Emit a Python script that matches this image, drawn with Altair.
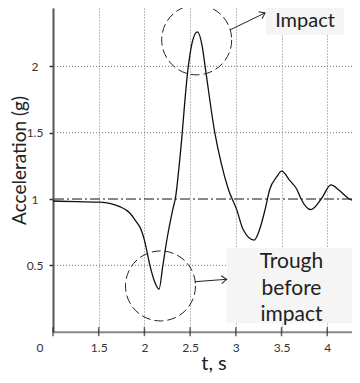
import math
import altair as alt
import pandas as pd

# ---- data ----
t_vals = [1.00, 1.25, 1.51, 1.62, 1.73, 1.84, 1.92, 1.95, 2.00, 2.06, 2.11, 2.16,
          2.20, 2.25, 2.31, 2.34, 2.39, 2.48, 2.53, 2.58, 2.63, 2.67, 2.77, 2.84,
          2.92, 3.01, 3.08, 3.20, 3.26, 3.32, 3.37, 3.45, 3.50, 3.59, 3.67, 3.71,
          3.82, 3.94, 4.04, 4.14, 4.23, 4.30, 4.36]
acc_vals = [0.985, 0.98, 0.976, 0.968, 0.943, 0.895, 0.82, 0.79, 0.69, 0.50, 0.38, 0.32,
            0.49, 0.71, 0.92, 1.01, 1.32, 2.00, 2.20, 2.26, 2.16, 1.97, 1.50, 1.27,
            1.07, 0.92, 0.77, 0.69, 0.77, 0.92, 1.07, 1.17, 1.21, 1.14, 1.07, 1.006,
            0.92, 1.006, 1.106, 1.06, 1.006, 0.985, 0.98]

x_ticks = [1, 1.5, 2, 2.5, 3, 3.5, 4]
x_origin_label = ["0"]
x_origin_value = [1]
y_ticks = [0.5, 1, 1.5, 2]
y_grid = [0.5, 1.5, 2]
ref_level = [1.0]

# annotations (data units)
circle_t = [2.572, 2.176]
circle_y = [2.20, 0.345]

arrow_t1 = [2.937, 2.554]
arrow_y1 = [2.275, 0.377]
arrow_t2 = [3.320, 2.900]
arrow_y2 = [2.403, 0.395]

box_t1 = [3.330, 2.900]
box_t2 = [4.184, 4.323]
box_y1 = [2.50, 0.631]
box_y2 = [2.237, 0.063]

label_text = ["Impact", "Trough", "before", "impact"]
label_size = [20, 21, 21, 21]
label_t = [3.757, 3.609, 3.609, 3.609]
label_y = [2.298, 0.478, 0.277, 0.081]

# ---- layout ----
W, H = 299, 323.7
XMIN, XMAX = 1.0, 4.271
YMIN, YMAX = 0.0, 2.44
FONT = "Lato"

xs = alt.Scale(domain=[XMIN, XMAX], nice=False, zero=False)
ys = alt.Scale(domain=[YMIN, YMAX], nice=False, zero=False)

curve = pd.DataFrame({"t": t_vals, "a": acc_vals})
circles = pd.DataFrame({"t": circle_t, "a": circle_y})
px_per_t = W / (XMAX - XMIN)
px_per_a = H / (YMAX - YMIN)
angles = []
for a1, b1, a2, b2 in zip(arrow_t1, arrow_y1, arrow_t2, arrow_y2):
    dx = (a2 - a1) * px_per_t
    dy = -(b2 - b1) * px_per_a
    angles.append(math.degrees(math.atan2(dy, dx)) % 360)
arrows = pd.DataFrame({"t1": arrow_t1, "a1": arrow_y1, "t2": arrow_t2, "a2": arrow_y2,
                       "ang": angles})
boxes = pd.DataFrame({"t1": box_t1, "t2": box_t2, "a1": box_y1, "a2": box_y2})
labels = pd.DataFrame({"txt": label_text, "t": label_t, "a": label_y, "fs": label_size})
ticks = pd.DataFrame({"t": x_ticks})
origin = pd.DataFrame({"t": x_origin_value, "txt": x_origin_label})
ygrid = pd.DataFrame({"a": y_grid})

x_axis = alt.Axis(
    values=x_ticks, format="~g", ticks=False, domainColor="#888888", domainWidth=2,
    labelFont=FONT, labelFontSize=12, labelColor="#333333", labelPadding=11,
    labelFlush=False, labelOverlap=False,
    labelExpr="datum.value === 1 ? '' : datum.label",
    grid=True, gridColor="#777777", gridDash=[1, 2], gridWidth=1,
    title="t, s", titleFont=FONT, titleFontSize=20, titleFontWeight="normal",
    titleColor="#222222", titleX=160.5, titleY=38, titleBaseline="alphabetic",
    titleAlign="center",
)
y_axis = alt.Axis(
    values=y_ticks, format="~g", tickSize=4, tickColor="#333333", tickWidth=1.5,
    domainColor="#555555", domainWidth=2,
    labelFont=FONT, labelFontSize=12, labelColor="#333333", labelAlign="center",
    labelPadding=14.5, grid=False,
    title="Acceleration (g)", titleFont=FONT, titleFontSize=19,
    titleFontWeight="normal", titleColor="#222222", titleAngle=270,
    titleX=-34, titleY=152, titleAlign="center", titleBaseline="middle",
)


def X(field):
    return alt.X(field, type="quantitative", scale=xs, axis=x_axis)


def Y(field):
    return alt.Y(field, type="quantitative", scale=ys, axis=y_axis)


Y0 = alt.Y(datum=0, scale=ys, axis=y_axis)

grid_layer = alt.Chart(ygrid).mark_rule(
    color="#777777", strokeWidth=1, strokeDash=[1, 2]
).encode(y=Y("a"))

line_layer = alt.Chart(curve).mark_line(color="#111111", strokeWidth=1.3,
                                        interpolate="monotone").encode(
    x=X("t"), y=Y("a"),
)

box_layer = alt.Chart(boxes).mark_rect(color="#f5f5f5").encode(
    x=X("t1"), x2="t2", y=Y("a1"), y2="a2",
)

ref_layer = alt.Chart(pd.DataFrame({"a": ref_level})).mark_rule(
    color="#111111", strokeWidth=1, strokeDash=[10, 3, 2, 3]
).encode(y=Y("a"))

circle_layer = alt.Chart(circles).mark_point(
    shape="circle", filled=False, size=4900, color="#222222", strokeWidth=1,
    strokeDash=[9, 4], opacity=1,
).encode(x=X("t"), y=Y("a"))

arrow_line = alt.Chart(arrows).mark_rule(color="#222222", strokeWidth=1).encode(
    x=X("t1"), x2="t2", y=Y("a1"), y2="a2",
)
arrow_head = alt.Chart(arrows).mark_point(
    shape="M-1,-0.75L0,0L-1,0.75", filled=False, size=110, color="#222222",
    strokeWidth=1, opacity=1,
).encode(
    x=X("t2"), y=Y("a2"),
    angle=alt.Angle("ang:Q", scale=None),
)

text_layer = alt.Chart(labels).mark_text(
    font=FONT, color="#222222", align="center", baseline="alphabetic",
).encode(x=X("t"), y=Y("a"), text="txt:N",
         size=alt.Size("fs:Q", scale=None, legend=None))

origin_layer = alt.Chart(origin).mark_text(
    font=FONT, fontSize=12, color="#333333", align="center", baseline="top",
    dx=-13, dy=11,
).encode(x=X("t"), y=Y0, text="txt:N")

tick_layer = alt.Chart(ticks).mark_tick(
    orient="vertical", size=9, thickness=1.5, color="#222222",
).encode(x=X("t"), y=Y0)

chart = alt.layer(
    grid_layer, line_layer, box_layer, ref_layer, circle_layer, arrow_line,
    arrow_head, text_layer, origin_layer, tick_layer,
).properties(
    width=W, height=H, autosize="none",
    padding={"left": 45, "top": 0, "right": 0, "bottom": 43},
).configure_view(strokeWidth=0)

chart.save("out.html", embed_options={"renderer": "svg", "actions": False})
